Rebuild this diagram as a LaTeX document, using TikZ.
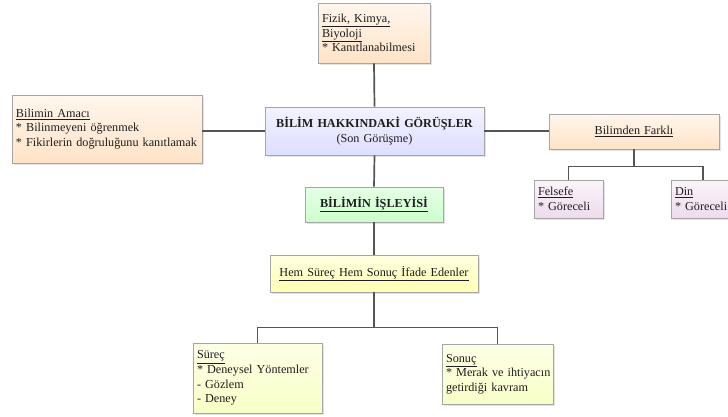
\documentclass[tikz,border=0pt]{standalone}
\usepackage{fontspec}
\setmainfont{Liberation Serif}
\usetikzlibrary{shadows}
\definecolor{edge}{HTML}{A6A6A6}
\definecolor{wire}{HTML}{555555}
\definecolor{ink}{HTML}{1E1E1E}
\tikzset{
  box/.style={draw=edge, line width=0.7pt, inner xsep=4pt, inner ysep=2pt,
    font=\fontsize{12.2}{14.6}\selectfont\frenchspacing, text=ink,
    drop shadow={opacity=0.22, shadow xshift=1.5pt, shadow yshift=-1.5pt}},
  peach/.style={box, top color=orange!7!white, bottom color=orange!22!white},
  bluish/.style={box, top color=blue!5!white, bottom color=blue!13!white},
  greenish/.style={box, top color=green!10!white, bottom color=green!20!white},
  lime/.style={box, top color=green!8!yellow!10!white, bottom color=green!14!yellow!22!white},
  lemon/.style={box, top color=yellow!12!white, bottom color=yellow!30!white},
  lilac/.style={box, top color=violet!4!white, bottom color=violet!14!white},
  wirestyle/.style={draw=wire, line width=1.7pt}
}
% one unbreakable text line; a break that leaves a following asterisk alone
\newcommand{\rowtxt}[1]{\mbox{#1}}
\newcommand{\nl}{\\\relax}
\begin{document}
\begin{tikzpicture}[x=1pt, y=-1pt]
\useasboundingbox (0,0) rectangle (728,416);
\fill[white] (0,0) rectangle (728,416);

% boxes
\node[peach, minimum width=112pt, minimum height=60pt, text width=104pt, align=left] (fizik) at (374,33)
  {\underline{Fizik, Kimya,}\nl\underline{Biyoloji}\nl\rowtxt{* Kanıtlanabilmesi}};
\node[peach, minimum width=190pt, minimum height=68pt, text width=182pt, align=left] (amac) at (107,129)
  {\underline{Bilimin Amacı}\nl\rowtxt{* Bilinmeyeni öğrenmek}\nl\rowtxt{* Fikirlerin doğruluğunu kanıtlamak}};
\node[bluish, minimum width=219pt, minimum height=48pt, text width=211pt, align=center] (gorus) at (374.5,131)
  {\textbf{BİLİM HAKKINDAKİ GÖRÜŞLER}\nl(Son Görüşme)};
\node[peach, minimum width=170pt, minimum height=35pt, text width=162pt, align=center] (farkli) at (634,131.5)
  {\underline{Bilimden Farklı}};
\node[lilac, minimum width=69pt, minimum height=38pt, text width=61pt, align=left] (felsefe) at (568.5,199)
  {\underline{Felsefe}\nl\rowtxt{* Göreceli}};
\node[lilac, minimum width=69pt, minimum height=38pt, text width=61pt, align=left] (din) at (705.5,199)
  {\underline{Din}\nl\rowtxt{* Göreceli}};
\node[greenish, minimum width=138pt, minimum height=35pt, text width=130pt, align=center] (isleyis) at (374,204.5)
  {\textbf{\underline{BİLİMİN İŞLEYİSİ}}};
\node[lemon, minimum width=208pt, minimum height=37pt, text width=200pt, align=center] (hem) at (374,273.5)
  {\underline{Hem Süreç Hem Sonuç İfade Edenler}};
\node[lime, minimum width=129pt, minimum height=70pt, text width=121pt, align=left] (surec) at (257.5,378)
  {\underline{Süreç}\nl\rowtxt{* Deneysel Yöntemler}\nl\rowtxt{- Gözlem}\nl\rowtxt{- Deney}};
\node[lime, minimum width=111pt, minimum height=60pt, text width=103pt, align=left] (sonuc) at (497.5,374)
  {\underline{Sonuç}\nl\rowtxt{* Merak ve ihtiyacın}\nl\rowtxt{getirdiği kavram}};

% connectors
\draw[wirestyle] (fizik.south) -- (gorus.north);
\draw[wirestyle] (gorus.west) -- (gorus.west -| amac.east);
\draw[wirestyle] (gorus.east) -- (gorus.east -| farkli.west);
\draw[wirestyle] (gorus.south) -- (isleyis.north);
\draw[wirestyle] (isleyis.south) -- (hem.north);
\draw[wirestyle] (farkli.south) -- ++(0,17) -| (felsefe.north);
\draw[wirestyle] (farkli.south) -- ++(0,17) -| ([xshift=-2.5pt]din.north);
\draw[wirestyle] (hem.south) -- ++(0,35) -| (surec.north);
\draw[wirestyle] (hem.south) -- ++(0,35) -| (sonuc.north);
\end{tikzpicture}
\end{document}
